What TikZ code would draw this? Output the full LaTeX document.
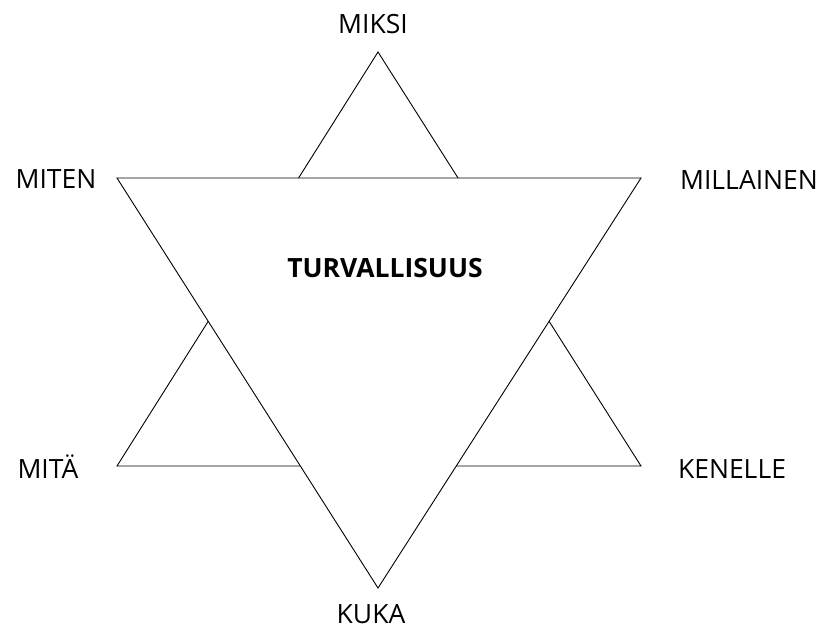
\documentclass[tikz,border=0pt]{standalone}
\usepackage{fontspec}
\setmainfont{Open Sans}
\usepackage{tikz}
\usetikzlibrary{positioning}

\begin{document}
\begin{tikzpicture}[x=1pt,y=-1pt,every node/.style={font=\fontsize{26.5}{30}\selectfont}]
    \tikzstyle{tri}=[draw=black,line width=0.9pt,fill=white,line join=miter];
    \tikzstyle{lbl}=[inner sep=0pt,anchor=base];
    \useasboundingbox (0,0) rectangle (824,630);
    % corners of the two triangles
    \coordinate (top)   at (378,52);
    \coordinate (bl)    at (117,466);
    \coordinate (br)    at (641,466);
    \coordinate (tl)    at (117,178);
    \coordinate (tr)    at (641,178);
    \coordinate (bot)   at (378,588);
    \draw[tri] (top) -- (br) -- (bl) -- cycle;
    \draw[tri] (tl) -- (tr) -- (bot) -- cycle;

    \node[lbl] (miksi)     at (373,33)  {MIKSI};
    \node[lbl] (miten)     at (56,188)  {MITEN};
    \node[lbl] (millainen) at (749,189) {MILLAINEN};
    \node[lbl] (mita)      at (48,478)  {MITÄ};
    \node[lbl] (kenelle)   at (732,478) {KENELLE};
    \node[lbl] (kuka)      at (371,623) {KUKA};
    \node[lbl,font=\fontsize{26.5}{30}\selectfont\bfseries] (turv) at (385,277) {TURVALLISUUS};
\end{tikzpicture}
\end{document}
